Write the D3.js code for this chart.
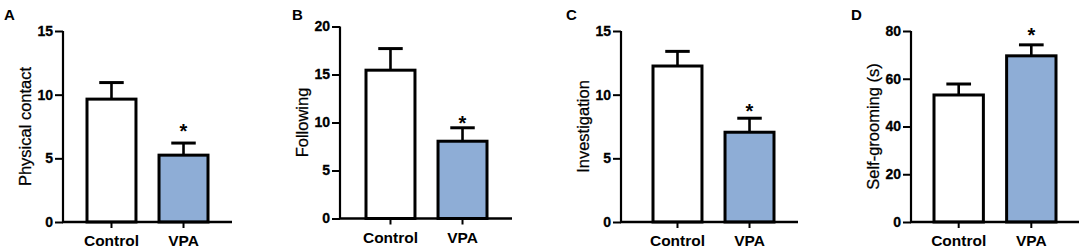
<!DOCTYPE html>
<html>
<head>
<meta charset="utf-8">
<script src="https://cdn.jsdelivr.net/npm/d3@7"></script>
<style>
  body { margin: 0; background: #fff; }
  svg { display: block; font-family: Arial, "Liberation Sans", sans-serif; }
</style>
</head>
<body>
<svg id="chart" width="1084" height="250"></svg>
<script>
// groups shared by every panel
const groups = ["Control", "VPA"];

// panel letters and y-axis titles
const panelLetters = ["A", "B", "C", "D"];
const yTitles = ["Physical contact", "Following", "Investigation", "Self-grooming (s)"];

// y-axis domain max and tick labels per panel
const yMax = [15, 20, 15, 80];
const yTicks = [[0, 5, 10, 15], [0, 5, 10, 15, 20], [0, 5, 10, 15], [0, 20, 40, 60, 80]];

// means and upper error (mean + SEM)
const means = [[9.65, 5.25], [15.45, 8.05], [12.25, 7.05], [53.2, 69.6]];
const errTop = [[10.95, 6.2], [17.7, 9.45], [13.4, 8.15], [57.8, 74.2]];

// height of the significance star (data units) over VPA
const starLevel = [7.5, 10.4, 9.0, 80.1];

// layout of each panel (pixels)
const layout = [
  { x0: 63,  x1: 232,  bl: 24, br: 24, top: 31,   bottom: 222,   letterX: 4 },
  { x0: 340, x1: 512,  bl: 26, br: 25, top: 26.5, bottom: 218.5, letterX: 292 },
  { x0: 621, x1: 798,  bl: 32, br: 24, top: 31,   bottom: 222,   letterX: 566 },
  { x0: 911, x1: 1079, bl: 23, br: 23, top: 31,   bottom: 222,   letterX: 851 }
];

const fills = ["#ffffff", "#8eadd6"];

const svg = d3.select("#chart");

layout.forEach((L, i) => {
  const g = svg.append("g");

  const y = d3.scaleLinear()
    .domain([0, yMax[i]])
    .range([L.bottom, L.top]);

  const x = d3.scaleBand()
    .domain(groups)
    .range([L.x0 + L.bl, L.x1 - L.br])
    .paddingInner(0.32)
    .paddingOuter(0);

  // bars
  g.selectAll("rect.bar")
    .data(groups)
    .enter()
    .append("rect")
    .attr("class", "bar")
    .attr("x", d => x(d))
    .attr("y", (d, j) => y(means[i][j]))
    .attr("width", x.bandwidth())
    .attr("height", (d, j) => L.bottom - y(means[i][j]))
    .attr("fill", (d, j) => fills[j])
    .attr("stroke", "#000")
    .attr("stroke-width", 3);

  // error bars (upper only)
  const capW = x.bandwidth() * 0.5;
  groups.forEach((d, j) => {
    const cx = x(d) + x.bandwidth() / 2;
    g.append("line")
      .attr("x1", cx).attr("x2", cx)
      .attr("y1", y(means[i][j])).attr("y2", y(errTop[i][j]))
      .attr("stroke", "#000").attr("stroke-width", 2.6);
    g.append("line")
      .attr("x1", cx - capW / 2).attr("x2", cx + capW / 2)
      .attr("y1", y(errTop[i][j])).attr("y2", y(errTop[i][j]))
      .attr("stroke", "#000").attr("stroke-width", 3);
  });

  // significance star
  g.append("text")
    .attr("x", x("VPA") + x.bandwidth() / 2)
    .attr("y", y(starLevel[i]) + 11)
    .attr("text-anchor", "middle")
    .attr("font-size", 20)
    .attr("font-weight", "bold")
    .text("*");

  // y axis
  const yAxis = d3.axisLeft(y)
    .tickValues(yTicks[i])
    .tickSize(8)
    .tickPadding(2);
  const ya = g.append("g")
    .attr("transform", `translate(${L.x0},0)`)
    .attr("font-size", 14)
    .attr("font-family", "Arial, 'Liberation Sans', sans-serif")
    .call(yAxis);
  ya.select(".domain").attr("stroke-width", 2.2).attr("d", `M0,${L.top}V${L.bottom}`);
  ya.selectAll(".tick line").attr("stroke-width", 2);
  ya.selectAll(".tick text")
    .style("font-size", "14px")
    .style("font-weight", "bold")
    .attr("stroke", "#000")
    .attr("stroke-width", 0.3)
    .attr("fill", "#000");

  // x axis
  const xAxis = d3.axisBottom(x)
    .tickSize(6)
    .tickPadding(7);
  const xa = g.append("g")
    .attr("transform", `translate(0,${L.bottom})`)
    .call(xAxis);
  xa.select(".domain").attr("stroke-width", 2.4).attr("d", `M${L.x0 - 1},0H${L.x1}`);
  xa.selectAll(".tick line").attr("stroke-width", 2);
  xa.selectAll(".tick text")
    .style("font-size", "15.5px")
    .style("font-weight", "bold")
    .style("font-family", "Arial, 'Liberation Sans', sans-serif")
    .attr("fill", "#000");

  // y title
  g.append("text")
    .attr("transform", `translate(${L.x0 - 32.5},${(L.top + L.bottom) / 2}) rotate(-90)`)
    .attr("text-anchor", "middle")
    .attr("font-size", 16.5)
    .attr("stroke", "#000")
    .attr("stroke-width", 0.25)
    .text(yTitles[i]);

  // panel letter
  g.append("text")
    .attr("x", L.letterX)
    .attr("y", 20)
    .attr("font-size", 15)
    .attr("font-weight", "bold")
    .text(panelLetters[i]);
});
</script>
</body>
</html>
